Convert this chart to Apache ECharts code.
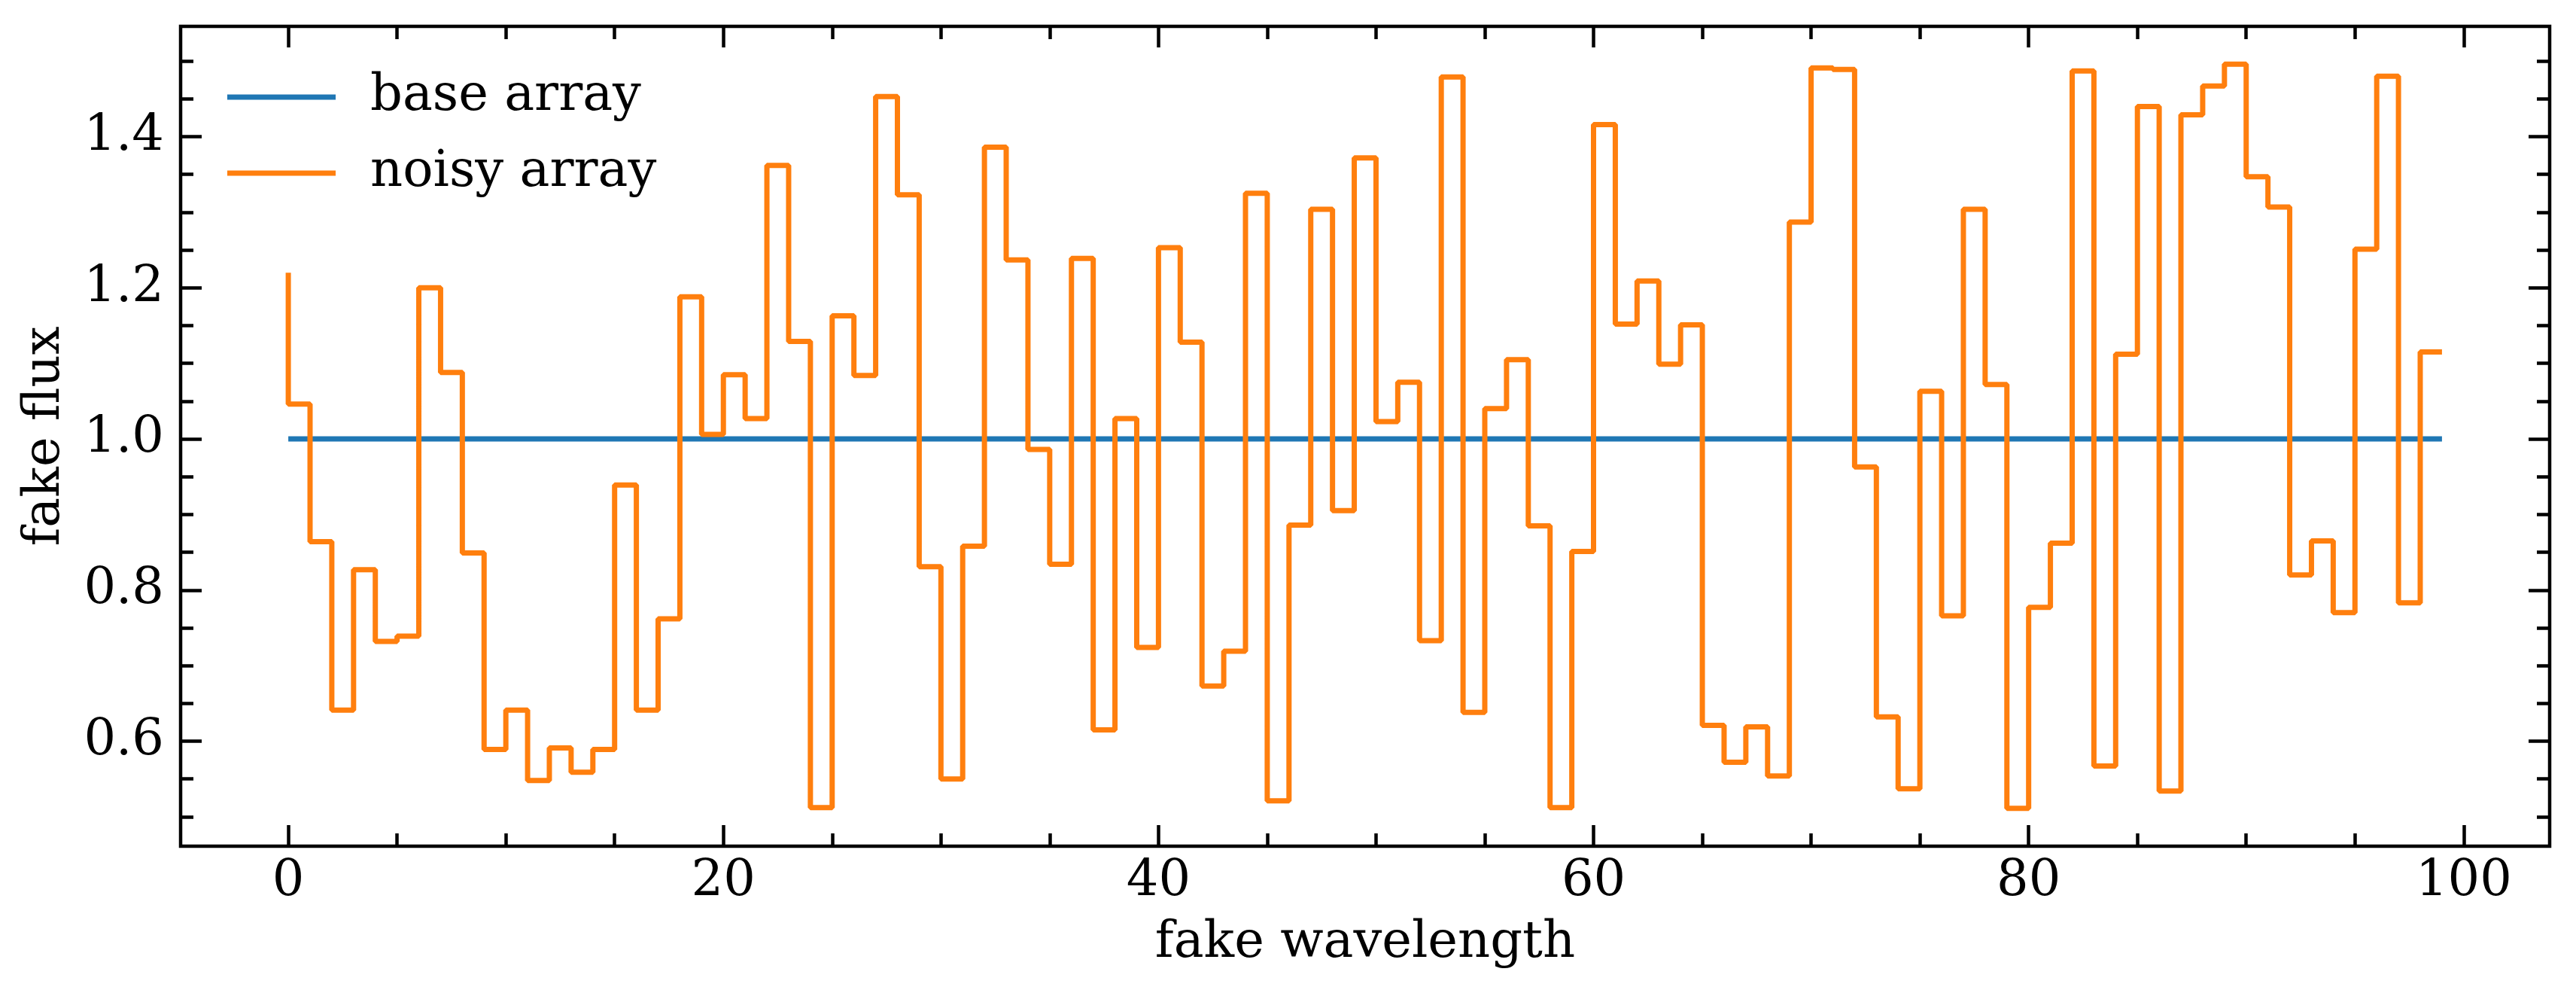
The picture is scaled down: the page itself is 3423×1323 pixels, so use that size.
<!DOCTYPE html>
<html>
<head>
<meta charset="utf-8">
<script src="https://cdn.jsdelivr.net/npm/echarts@6/dist/echarts.min.js"></script>
<style>
  html, body { margin: 0; padding: 0; background: #ffffff; }
  #chart { width: 3423px; height: 1323px; }
</style>
</head>
<body>
<div id="chart"></div>
<script>
// ---------- data ----------
const wavelength = [
  0, 1, 2, 3, 4, 5, 6, 7, 8, 9,
  10, 11, 12, 13, 14, 15, 16, 17, 18, 19,
  20, 21, 22, 23, 24, 25, 26, 27, 28, 29,
  30, 31, 32, 33, 34, 35, 36, 37, 38, 39,
  40, 41, 42, 43, 44, 45, 46, 47, 48, 49,
  50, 51, 52, 53, 54, 55, 56, 57, 58, 59,
  60, 61, 62, 63, 64, 65, 66, 67, 68, 69,
  70, 71, 72, 73, 74, 75, 76, 77, 78, 79,
  80, 81, 82, 83, 84, 85, 86, 87, 88, 89,
  90, 91, 92, 93, 94, 95, 96, 97, 98, 99
];
const baseFlux = [
  1, 1, 1, 1, 1, 1, 1, 1, 1, 1,
  1, 1, 1, 1, 1, 1, 1, 1, 1, 1,
  1, 1, 1, 1, 1, 1, 1, 1, 1, 1,
  1, 1, 1, 1, 1, 1, 1, 1, 1, 1,
  1, 1, 1, 1, 1, 1, 1, 1, 1, 1,
  1, 1, 1, 1, 1, 1, 1, 1, 1, 1,
  1, 1, 1, 1, 1, 1, 1, 1, 1, 1,
  1, 1, 1, 1, 1, 1, 1, 1, 1, 1,
  1, 1, 1, 1, 1, 1, 1, 1, 1, 1,
  1, 1, 1, 1, 1, 1, 1, 1, 1, 1
];
const noisyFlux = [
  1.220, 1.046, 0.864, 0.641, 0.827, 0.732, 0.739, 1.200, 1.088, 0.849,
  0.589, 0.641, 0.548, 0.591, 0.559, 0.589, 0.939, 0.641, 0.762, 1.188,
  1.006, 1.085, 1.027, 1.362, 1.129, 0.512, 1.163, 1.084, 1.453, 1.323,
  0.831, 0.550, 0.858, 1.386, 1.237, 0.986, 0.834, 1.239, 0.615, 1.027,
  0.724, 1.253, 1.128, 0.673, 0.719, 1.325, 0.521, 0.886, 1.304, 0.905,
  1.372, 1.023, 1.075, 0.733, 1.479, 0.638, 1.040, 1.105, 0.885, 0.512,
  0.851, 1.416, 1.152, 1.209, 1.099, 1.151, 0.621, 0.572, 0.619, 0.554,
  1.287, 1.491, 1.489, 0.963, 0.632, 0.537, 1.063, 0.766, 1.304, 1.072,
  0.511, 0.777, 0.862, 1.487, 0.567, 1.112, 1.440, 0.534, 1.429, 1.467,
  1.496, 1.347, 1.307, 0.820, 0.865, 0.770, 1.251, 1.480, 0.783, 1.115
];
const seriesNames = ['base array', 'noisy array'];
const xMajorTicks = [0, 20, 40, 60, 80, 100];
const xMinorTicks = [5, 10, 15, 25, 30, 35, 45, 50, 55, 65, 70, 75, 85, 90, 95];
const yMajorTicks = [0.6, 0.8, 1.0, 1.2, 1.4];
const yMinorTicks = [0.5, 0.55, 0.65, 0.7, 0.75, 0.85, 0.9, 0.95, 1.05, 1.1, 1.15, 1.25, 1.3, 1.35, 1.45, 1.5];
const xRange = [-4.95, 103.95];
const yRange = [0.461, 1.546];

// ---------- chart ----------
const FONT = 'DejaVu Serif';
const FS = 67;
const chart = echarts.init(document.getElementById('chart'), null, { renderer: 'canvas' });

function tickAxis(kind, position, values, len, withLabels) {
  const isX = kind === 'x';
  const ax = {
    type: 'value',
    position: position,
    min: isX ? xRange[0] : yRange[0],
    max: isX ? xRange[1] : yRange[1],
    axisLine: { show: false, onZero: false },
    splitLine: { show: false },
    axisTick: {
      show: true, inside: true, length: len,
      customValues: values,
      lineStyle: { color: '#000', width: 4.5 }
    },
    axisLabel: { show: false }
  };
  if (withLabels) {
    ax.axisLabel = {
      show: true,
      customValues: values,
      fontFamily: FONT, fontSize: FS, color: '#000',
      margin: isX ? 14 : 22,
      formatter: isX ? (v) => String(Math.round(v)) : (v) => v.toFixed(1)
    };
  }
  return ax;
}

const xAxes = [
  tickAxis('x', 'bottom', xMajorTicks, 28, true),
  tickAxis('x', 'bottom', xMinorTicks, 17, false),
  tickAxis('x', 'top', xMajorTicks, 28, false),
  tickAxis('x', 'top', xMinorTicks, 17, false)
];
xAxes[0].name = 'fake wavelength';
xAxes[0].nameLocation = 'middle';
xAxes[0].nameGap = 96;
xAxes[0].nameTextStyle = { fontFamily: FONT, fontSize: FS, color: '#000' };

const yAxes = [
  tickAxis('y', 'left', yMajorTicks, 28, true),
  tickAxis('y', 'left', yMinorTicks, 17, false),
  tickAxis('y', 'right', yMajorTicks, 28, false),
  tickAxis('y', 'right', yMinorTicks, 17, false)
];
yAxes[0].name = 'fake flux';
yAxes[0].nameLocation = 'middle';
yAxes[0].nameGap = 146;
yAxes[0].nameTextStyle = { fontFamily: FONT, fontSize: FS, color: '#000' };

const option = {
  animation: false,
  backgroundColor: '#ffffff',
  grid: {
    left: 240, right: 35, top: 35, bottom: 199,
    show: true, borderColor: '#000', borderWidth: 4.5, backgroundColor: 'transparent'
  },
  legend: {
    orient: 'vertical',
    left: 297, top: 84,
    icon: 'rect',
    itemWidth: 144, itemHeight: 7,
    itemGap: 21,
    data: seriesNames,
    textStyle: { fontFamily: FONT, fontSize: FS, color: '#000', lineHeight: 80, padding: [0, 0, 0, 41] }
  },
  xAxis: xAxes,
  yAxis: yAxes,
  series: [
    {
      name: seriesNames[0], type: 'line', step: 'start',
      xAxisIndex: 0, yAxisIndex: 0,
      data: wavelength.map((w, i) => [w, baseFlux[i]]),
      showSymbol: false, symbol: 'none',
      lineStyle: { color: '#1f77b4', width: 7 },
      itemStyle: { color: '#1f77b4' },
      z: 2
    },
    {
      name: seriesNames[1], type: 'line', step: 'start',
      xAxisIndex: 0, yAxisIndex: 0,
      data: wavelength.map((w, i) => [w, noisyFlux[i]]),
      showSymbol: false, symbol: 'none',
      lineStyle: { color: '#ff7f0e', width: 7 },
      itemStyle: { color: '#ff7f0e' },
      z: 3
    }
  ]
};
chart.setOption(option);
</script>
</body>
</html>
